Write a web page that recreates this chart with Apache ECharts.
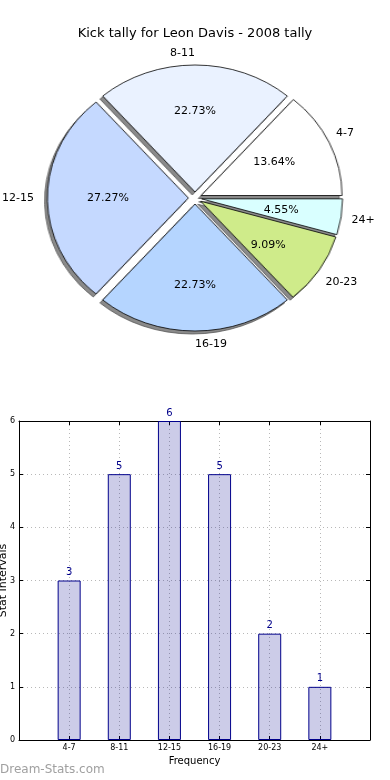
<!DOCTYPE html>
<html>
<head>
<meta charset="utf-8">
<script src="https://cdn.jsdelivr.net/npm/echarts@6/dist/echarts.min.js"></script>
<style>
html,body{margin:0;padding:0;background:#fff;}
#wrap{position:relative;width:390px;height:780px;overflow:hidden;}
#p{position:absolute;left:0;top:0;width:390px;height:380px;transform:scaleX(1.11);transform-origin:195px 198px;}
#c{position:absolute;left:0;top:0;width:390px;height:780px;}
</style>
</head>
<body>
<div id="wrap"><div id="p"></div><div id="c"></div></div>
<script>
var titleText = 'Kick tally for Leon Davis - 2008 tally';
var categories = ['4-7', '8-11', '12-15', '16-19', '20-23', '24+'];
var counts = [3, 5, 6, 5, 2, 1];
var sliceColors = ['#ffffff', '#eaf2ff', '#c5d9ff', '#b5d5ff', '#cfeb8a', '#d9ffff'];
var yTicks = [0, 1, 2, 3, 4, 5, 6];
// extra outward distance of each slice name (style only)
var nameGapPx = [28, 18, 34, 19, 28, 31];

var FONT = 'DejaVu Sans';
var R = 127;
var CX = 195, CY = 198;
var total = counts.reduce(function (a, b) { return a + b; }, 0);

function sliceData(withColor) {
  return categories.map(function (c, i) {
    return { name: c, value: counts[i], selected: true,
      itemStyle: { color: withColor ? sliceColors[i] : '#8a8a8a' } };
  });
}
var pctData = categories.map(function (c, i) {
  return { name: c, value: counts[i] };
});
var nameData = categories.map(function (c, i) {
  return { name: c, value: counts[i], labelLine: { length: nameGapPx[i], length2: 0, show: false } };
});
var barData = counts.map(function (v, i) { return [i + 1, v]; });

var pieBase = {
  type: 'pie', center: [CX, CY], radius: [0, R],
  startAngle: 0.001, clockwise: false,
  selectedMode: 'multiple', selectedOffset: 6,
  avoidLabelOverlap: false,
  label: { show: false }, labelLine: { show: false },
  emphasis: { disabled: true }, silent: true
};

// Pie shapes (horizontally stretched to the reference's elliptical pie)
var pie = echarts.init(document.getElementById('p'), null, { renderer: 'canvas' });
pie.setOption({
  animation: false,
  backgroundColor: 'rgba(0,0,0,0)',
  series: [
    Object.assign({}, pieBase, {
      name: 'shadow', z: 1,
      itemStyle: { borderColor: '#555', borderWidth: 0.8 },
      data: sliceData(false),
      center: [CX - 2.5, CY + 3]
    }),
    Object.assign({}, pieBase, {
      name: 'slices', z: 2,
      itemStyle: { borderColor: '#000', borderWidth: 0.8 },
      data: sliceData(true)
    })
  ]
});

var chart = echarts.init(document.getElementById('c'), null, { renderer: 'canvas' });
chart.setOption({
  animation: false,
  backgroundColor: 'rgba(0,0,0,0)',
  textStyle: { fontFamily: FONT },
  title: {
    text: titleText, left: 'center', top: 22,
    textStyle: { fontFamily: FONT, fontSize: 13, fontWeight: 'normal', color: '#000' }
  },
  graphic: [{
    type: 'text', left: 0, top: 764,
    style: { text: 'Dream-Stats.com', fontFamily: FONT, fontSize: 12, fill: '#a0a0a0' }
  }],
  grid: { left: 19, right: 20, top: 421, bottom: 40, containLabel: false, outerBoundsMode: 'none' },
  xAxis: [{
    type: 'value', min: 0, max: 7, interval: 1, position: 'bottom',
    name: 'Frequency', nameLocation: 'middle', nameGap: 16, nameMoveOverlap: false,
    nameTextStyle: { fontFamily: FONT, fontSize: 10, color: '#000' },
    axisLine: { show: true, onZero: false, lineStyle: { color: '#000', width: 1 } },
    axisTick: { show: true, inside: true, length: 4, lineStyle: { color: '#000' } },
    axisLabel: {
      fontFamily: FONT, fontSize: 8, color: '#000', margin: 4,
      formatter: function (v) { return categories[v - 1] || ''; }
    },
    splitLine: { show: true, lineStyle: { color: '#b8b8b8', type: [1, 3], width: 1 } }
  }, {
    type: 'value', min: 0, max: 7, interval: 1, position: 'top',
    axisLine: { show: true, onZero: false, lineStyle: { color: '#000', width: 1 } },
    axisTick: { show: true, inside: true, length: 4, lineStyle: { color: '#000' } },
    axisLabel: { show: false }, splitLine: { show: false }
  }],
  yAxis: [{
    type: 'value', min: 0, max: 6, interval: 1, position: 'left',
    name: 'Stat Intervals', nameLocation: 'middle', nameGap: 10, nameMoveOverlap: false,
    nameTextStyle: { fontFamily: FONT, fontSize: 11, color: '#000' },
    axisLine: { show: true, onZero: false, lineStyle: { color: '#000', width: 1 } },
    axisTick: { show: true, inside: true, length: 4, lineStyle: { color: '#000' } },
    axisLabel: {
      fontFamily: FONT, fontSize: 8, color: '#000', margin: 4,
      formatter: function (v) { return yTicks.indexOf(v) >= 0 ? String(v) : ''; }
    },
    splitLine: { show: true, lineStyle: { color: '#b8b8b8', type: [1, 3], width: 1 } }
  }, {
    type: 'value', min: 0, max: 6, interval: 1, position: 'right',
    axisLine: { show: true, onZero: false, lineStyle: { color: '#000', width: 1 } },
    axisTick: { show: true, inside: true, length: 4, lineStyle: { color: '#000' } },
    axisLabel: { show: false }, splitLine: { show: false }
  }],
  series: [{
    type: 'pie', name: 'pct', silent: true,
    center: [CX, CY], radius: [0, 168],
    startAngle: 0.001, clockwise: false,
    avoidLabelOverlap: false,
    itemStyle: { color: 'rgba(0,0,0,0)', borderWidth: 0 },
    label: {
      show: true, position: 'inside',
      formatter: function (p) { return (p.value / total * 100).toFixed(2) + '%'; },
      fontFamily: FONT, fontSize: 11, color: '#000'
    },
    labelLine: { show: false },
    emphasis: { disabled: true },
    data: pctData
  }, {
    type: 'pie', name: 'names', silent: true,
    center: [CX, CY], radius: [0, R],
    startAngle: 0.001, clockwise: false,
    avoidLabelOverlap: false,
    itemStyle: { color: 'rgba(0,0,0,0)', borderWidth: 0 },
    label: {
      show: true, position: 'outside', formatter: '{b}',
      fontFamily: FONT, fontSize: 11, color: '#000', distanceToLabelLine: 0
    },
    labelLine: { show: false, length: 20, length2: 0 },
    emphasis: { disabled: true },
    data: nameData
  }, {
    type: 'bar', name: 'bars', xAxisIndex: 0, yAxisIndex: 0,
    barWidth: 23,
    itemStyle: { color: 'rgba(0,0,139,0.2)', borderColor: '#00008b', borderWidth: 1 },
    label: { show: true, position: 'top', distance: 3, fontFamily: FONT, fontSize: 10, color: '#00008b' },
    emphasis: { disabled: true },
    data: barData
  }]
});
</script>
</body>
</html>
